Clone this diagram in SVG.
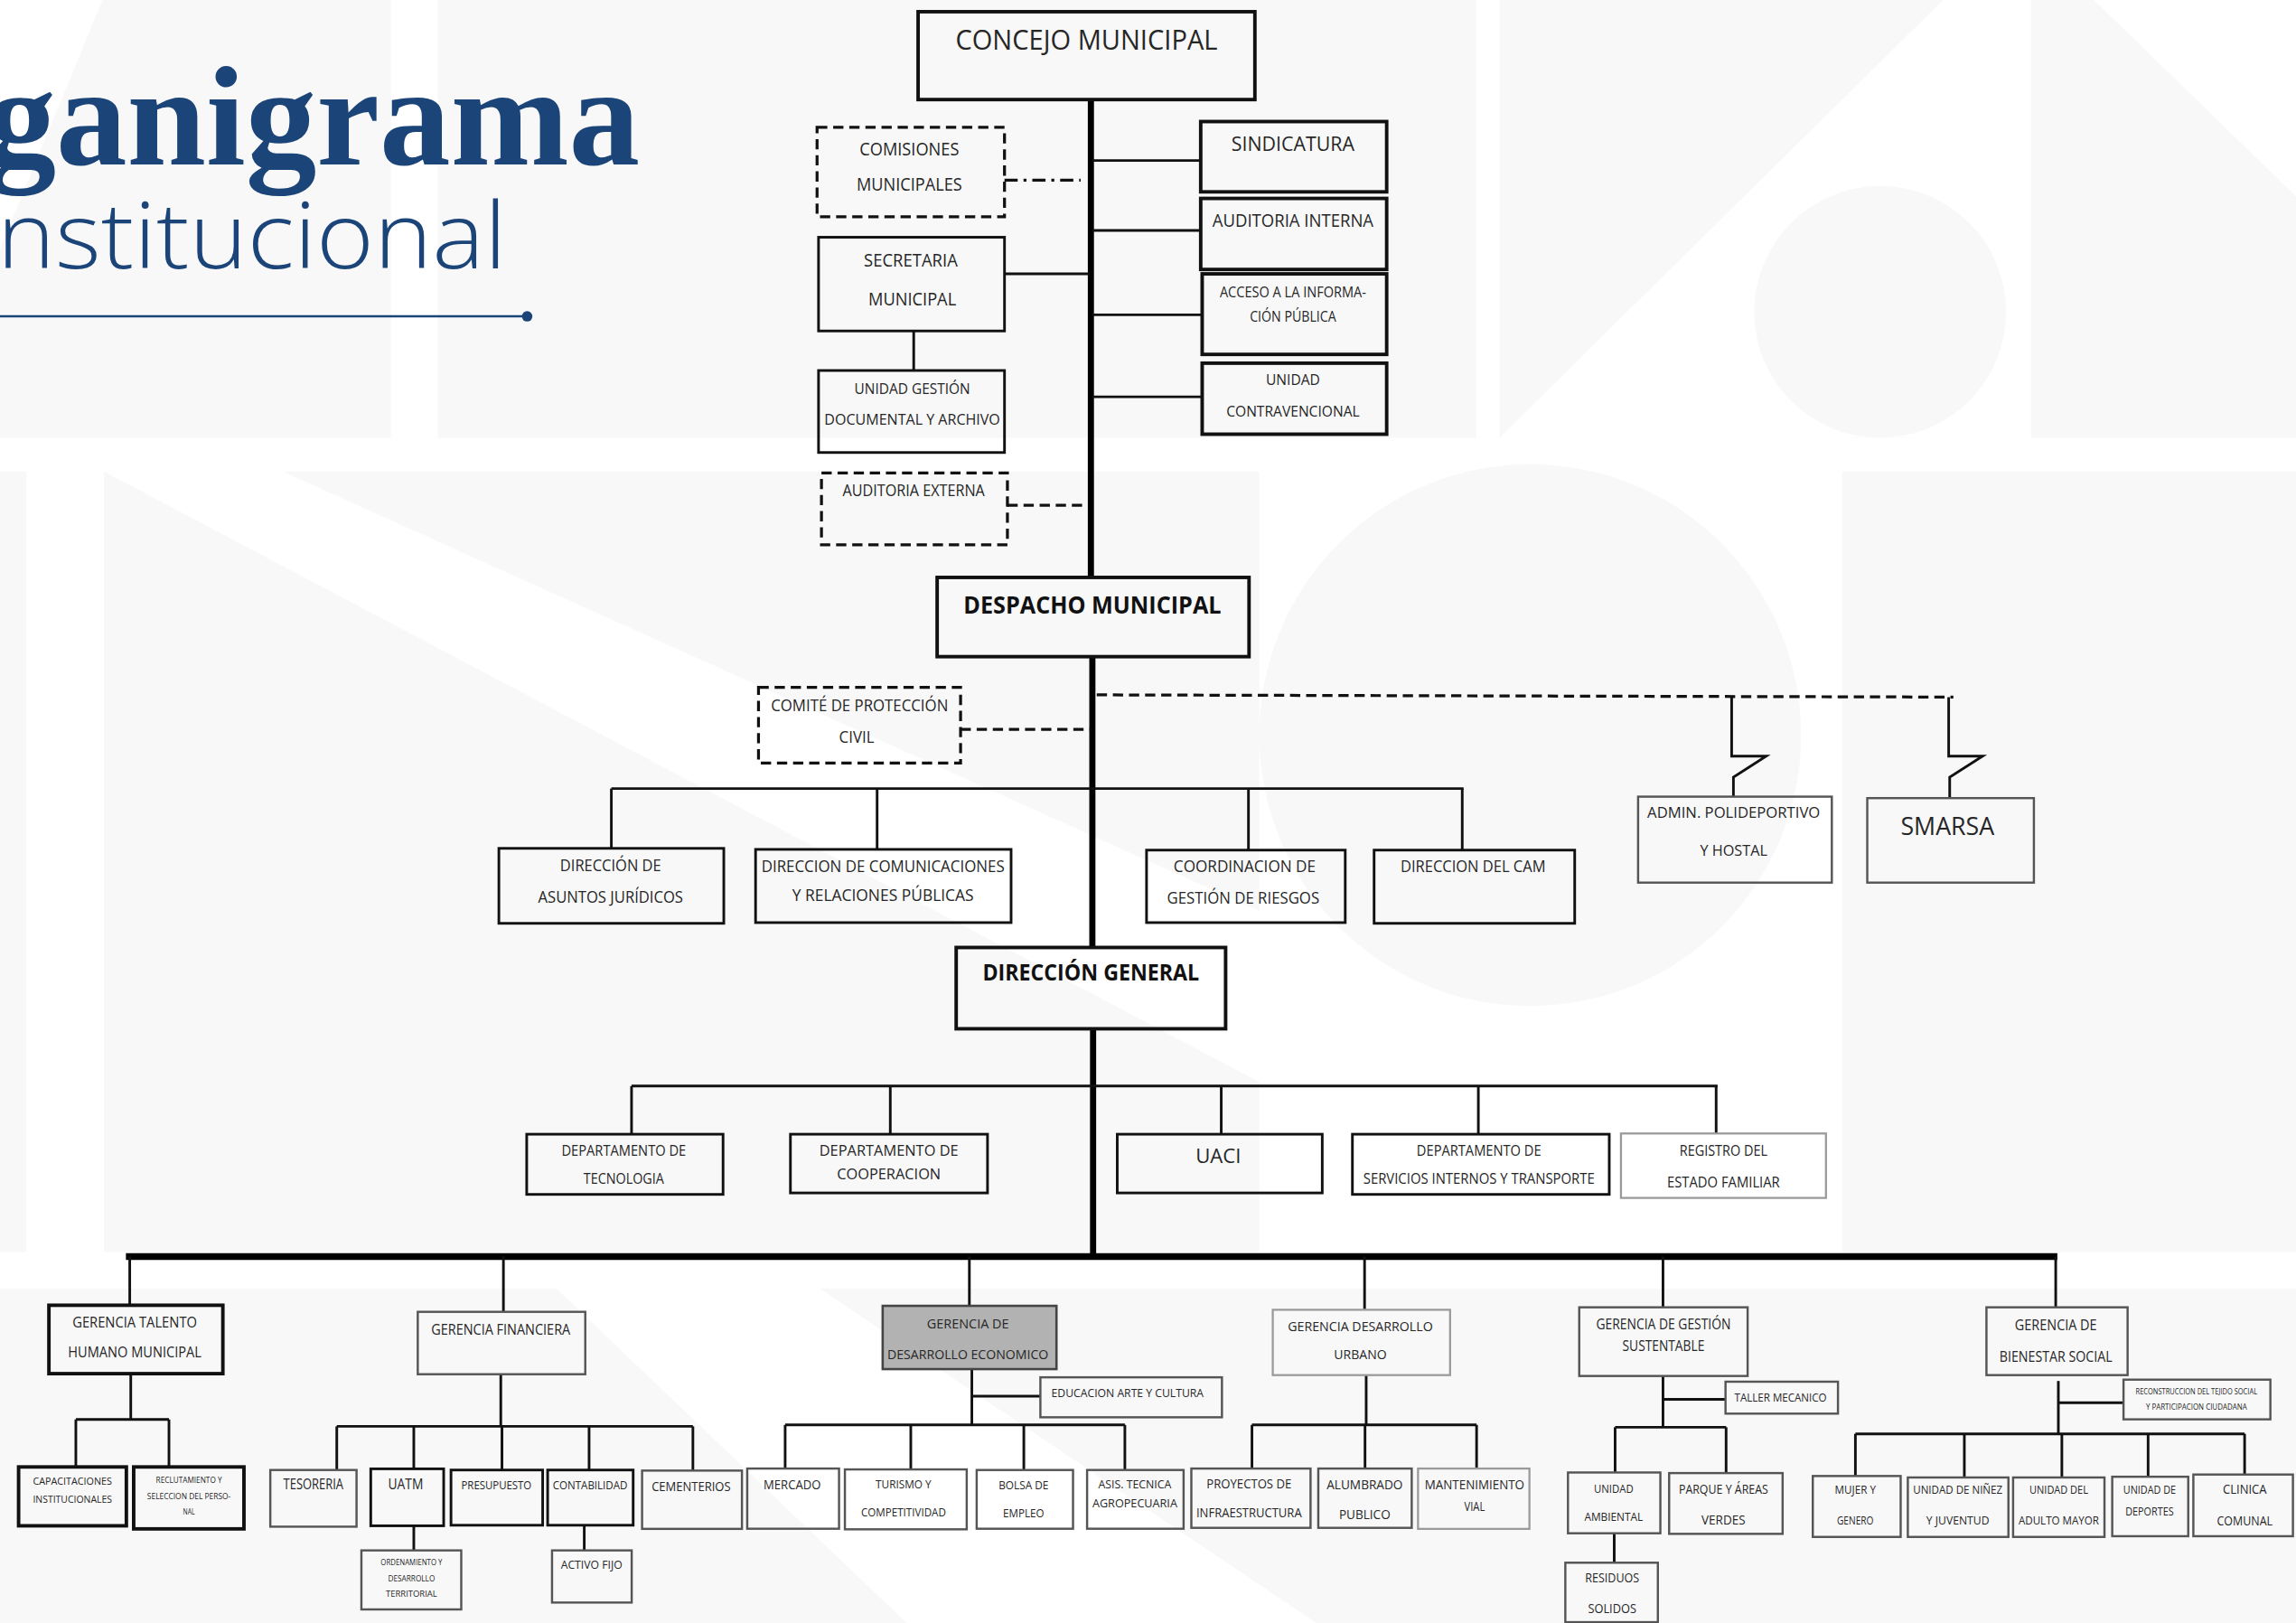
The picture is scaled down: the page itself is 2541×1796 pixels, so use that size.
<svg xmlns="http://www.w3.org/2000/svg" width="2541" height="1796" viewBox="0 0 2541 1796">
<defs>
<style>
.b{fill:none;stroke:#111;stroke-width:1.8}
.bk{fill:none;stroke:#111;stroke-width:2.4}
.bg{fill:none;stroke:#555;stroke-width:1.5}
.bl{fill:none;stroke:#9a9a9a;stroke-width:1.4}
.bd{fill:none;stroke:#111;stroke-width:2;stroke-dasharray:7 4}
.t{font-family:'Open Sans','Liberation Sans',sans-serif;fill:#262626;text-anchor:middle}
.tb{font-weight:bold;fill:#111}
.c{stroke:#111;stroke-width:1.8;fill:none}
.cs{stroke:#000;stroke-width:4.2;fill:none}
.cb{stroke:#000;stroke-width:4.6;fill:none}
.cd{stroke:#111;stroke-width:2;fill:none;stroke-dasharray:7 4}
.cdd{stroke:#111;stroke-width:2;fill:none;stroke-dasharray:9 4 2 4}
.bgt{fill:#f8f8f9}
.wh{fill:#ffffff}
</style>
</defs>
<g transform="scale(1.62054)">
<g id="background">
<rect x="0" y="0" width="1568" height="1109" class="bgt"/>
<rect x="267" y="0" width="32" height="299" class="wh"/>
<rect x="1008" y="0" width="16" height="299" class="wh"/>
<polygon points="1327,0 1387,0 1387,299 1024,299" class="wh"/>
<circle cx="1284" cy="213" r="86" class="bgt"/>
<polygon points="1430,0 1568,0 1568,134" class="wh"/>
<polygon points="0,0 70,0 0,170" class="wh"/>
<rect x="0" y="299" width="1568" height="23" class="wh"/>
<rect x="18" y="322" width="53" height="533" class="wh"/>
<polygon points="71,322 193,322 900,640 900,760" class="wh"/>
<rect x="860" y="322" width="398" height="533" class="wh"/>
<circle cx="1045" cy="502" r="185" class="bgt"/>
<rect x="0" y="855" width="1568" height="25" class="wh"/>
<polygon points="380,880 560,880 900,1109 620,1109" class="wh"/>
</g>
<g id="title">
<text x="437" y="112" font-family="'Liberation Serif',serif" font-weight="bold" font-size="97" fill="#1b4478" text-anchor="end">ganigrama</text>
<text x="-2" y="183" font-family="'Open Sans','Liberation Sans',sans-serif" font-weight="300" font-size="63" fill="#1b4478" textLength="348" lengthAdjust="spacingAndGlyphs">nstitucional</text>
<line x1="0" y1="216" x2="360" y2="216" stroke="#1b4478" stroke-width="1.6"/>
<circle cx="360" cy="216" r="3.6" fill="#1b4478"/>
</g>
<g id="connectors">
<line x1="745" y1="68" x2="745" y2="394" class="cs"/>
<line x1="746" y1="448" x2="746" y2="647" class="cs"/>
<line x1="746.5" y1="702" x2="746.5" y2="858" class="cs"/>
<line x1="746" y1="109.6" x2="820" y2="109.6" class="c"/>
<line x1="746" y1="157.4" x2="820" y2="157.4" class="c"/>
<line x1="746" y1="215" x2="821" y2="215" class="c"/>
<line x1="746" y1="271" x2="821" y2="271" class="c"/>
<line x1="686" y1="187" x2="744" y2="187" class="c"/>
<line x1="624" y1="226" x2="624" y2="253" class="c"/>
<line x1="686" y1="123" x2="738" y2="123" class="cdd"/>
<line x1="688" y1="345" x2="743" y2="345" class="cd"/>
<line x1="656" y1="498" x2="745" y2="498" class="cd"/>
<line x1="749" y1="474.5" x2="1334" y2="476" class="cd"/>
<polyline points="1182.6,476 1182.6,516.3 1206.2,516.3 1183.8,530.7 1183.8,544" class="c"/>
<polyline points="1330.8,476 1330.8,516.3 1354,516.3 1331.5,530.7 1331.5,545" class="c"/>
<line x1="417.5" y1="538.5" x2="999.5" y2="538.5" class="c" stroke-width="2.2"/>
<line x1="417.5" y1="538.5" x2="417.5" y2="579.3" class="c"/>
<line x1="599" y1="538.5" x2="599" y2="580" class="c"/>
<line x1="852.6" y1="538.5" x2="852.6" y2="580.5" class="c"/>
<line x1="998.6" y1="538.5" x2="998.6" y2="580.5" class="c"/>
<line x1="431.3" y1="741.6" x2="1173" y2="741.6" class="c" stroke-width="2.2"/>
<line x1="431.3" y1="741.6" x2="431.3" y2="774.5" class="c"/>
<line x1="608" y1="741.6" x2="608" y2="774.5" class="c"/>
<line x1="834" y1="741.6" x2="834" y2="774.5" class="c"/>
<line x1="1009.6" y1="741.6" x2="1009.6" y2="774.5" class="c"/>
<line x1="1172" y1="741.6" x2="1172" y2="774" class="c"/>
<line x1="86" y1="858" x2="1405" y2="858" class="cb"/>
<line x1="88.6" y1="858" x2="88.6" y2="891.3" class="c" stroke-width="2.2"/>
<line x1="343.8" y1="858" x2="343.8" y2="895.8" class="c" stroke-width="2.2"/>
<line x1="662" y1="858" x2="662" y2="891.7" class="c" stroke-width="2.2"/>
<line x1="931.9" y1="858" x2="931.9" y2="894" class="c" stroke-width="2.2"/>
<line x1="1135.7" y1="858" x2="1135.7" y2="892.7" class="c" stroke-width="2.2"/>
<line x1="1403.9" y1="858" x2="1403.9" y2="892.7" class="c" stroke-width="2.2"/>
<line x1="89.3" y1="938" x2="89.3" y2="969.3" class="c"/>
<line x1="51.8" y1="969.3" x2="115.4" y2="969.3" class="c" stroke-width="2.2"/>
<line x1="51.8" y1="969.3" x2="51.8" y2="1001.7" class="c"/>
<line x1="115.4" y1="969.3" x2="115.4" y2="1001.7" class="c"/>
<line x1="342" y1="938.4" x2="342" y2="974" class="c"/>
<line x1="230" y1="974" x2="473.2" y2="974" class="c" stroke-width="2.2"/>
<line x1="230" y1="974" x2="230" y2="1003.8" class="c"/>
<line x1="282.6" y1="974" x2="282.6" y2="1003" class="c"/>
<line x1="342.8" y1="974" x2="342.8" y2="1003.8" class="c"/>
<line x1="402.3" y1="974" x2="402.3" y2="1003.8" class="c"/>
<line x1="473.2" y1="974" x2="473.2" y2="1004.2" class="c"/>
<line x1="282.6" y1="1041.9" x2="282.6" y2="1058.7" class="c"/>
<line x1="399" y1="1041.9" x2="399" y2="1058.7" class="c"/>
<line x1="663.7" y1="934.9" x2="663.7" y2="973" class="c"/>
<line x1="663.7" y1="953.4" x2="710.5" y2="953.4" class="c" stroke-width="2.2"/>
<line x1="536.2" y1="973" x2="768.2" y2="973" class="c" stroke-width="2.2"/>
<line x1="536.2" y1="973" x2="536.2" y2="1002.8" class="c"/>
<line x1="622" y1="973" x2="622" y2="1003.4" class="c"/>
<line x1="699.2" y1="973" x2="699.2" y2="1003.8" class="c"/>
<line x1="768.2" y1="973" x2="768.2" y2="1003.8" class="c"/>
<line x1="933" y1="939" x2="933" y2="973" class="c"/>
<line x1="855" y1="973" x2="1008.4" y2="973" class="c" stroke-width="2.2"/>
<line x1="855" y1="973" x2="855" y2="1002.8" class="c"/>
<line x1="932.2" y1="973" x2="932.2" y2="1002.8" class="c"/>
<line x1="1008.4" y1="973" x2="1008.4" y2="1002.8" class="c"/>
<line x1="1135.7" y1="939.6" x2="1135.7" y2="974.6" class="c"/>
<line x1="1135.7" y1="955.5" x2="1178.4" y2="955.5" class="c" stroke-width="2.2"/>
<line x1="1103" y1="974.6" x2="1178.8" y2="974.6" class="c" stroke-width="2.2"/>
<line x1="1103" y1="974.6" x2="1103" y2="1005.5" class="c"/>
<line x1="1178.8" y1="974.6" x2="1178.8" y2="1005.9" class="c"/>
<line x1="1102.4" y1="1047" x2="1102.4" y2="1067.1" class="c"/>
<line x1="1405.7" y1="943" x2="1405.7" y2="979.1" class="c"/>
<line x1="1405.7" y1="957.9" x2="1450.2" y2="957.9" class="c" stroke-width="2.2"/>
<line x1="1267.1" y1="979.1" x2="1532.9" y2="979.1" class="c" stroke-width="2.2"/>
<line x1="1267.1" y1="979.1" x2="1267.1" y2="1007.9" class="c"/>
<line x1="1341.5" y1="979.1" x2="1341.5" y2="1008.9" class="c"/>
<line x1="1408.1" y1="979.1" x2="1408.1" y2="1008.9" class="c"/>
<line x1="1467" y1="979.1" x2="1467" y2="1008.4" class="c"/>
<line x1="1532.9" y1="979.1" x2="1532.9" y2="1006.9" class="c"/>
</g>
<g id="n-concejo"><rect x="627" y="8" width="230" height="60" class="bk"/><text x="742" y="34" class="t" font-size="19.5" textLength="179" lengthAdjust="spacingAndGlyphs">CONCEJO MUNICIPAL</text></g>
<g id="n-comisiones"><rect x="558" y="87" width="128" height="61" class="bd"/><text x="621" y="106" class="t" font-size="12" textLength="68" lengthAdjust="spacingAndGlyphs">COMISIONES</text><text x="621" y="130" class="t" font-size="12" textLength="72" lengthAdjust="spacingAndGlyphs">MUNICIPALES</text></g>
<g id="n-secretaria"><rect x="559" y="162" width="127" height="64" class="b"/><text x="622" y="182" class="t" font-size="12" textLength="64" lengthAdjust="spacingAndGlyphs">SECRETARIA</text><text x="623" y="208.6" class="t" font-size="12" textLength="60" lengthAdjust="spacingAndGlyphs">MUNICIPAL</text></g>
<g id="n-gestion-documental"><rect x="559" y="253" width="127" height="56" class="b"/><text x="623" y="269" class="t" font-size="10.5" textLength="79" lengthAdjust="spacingAndGlyphs">UNIDAD GESTIÓN</text><text x="623" y="290" class="t" font-size="10.5" textLength="120" lengthAdjust="spacingAndGlyphs">DOCUMENTAL Y ARCHIVO</text></g>
<g id="n-auditoria-externa"><rect x="561" y="323" width="127" height="49" class="bd"/><text x="624" y="339" class="t" font-size="11" textLength="97" lengthAdjust="spacingAndGlyphs">AUDITORIA EXTERNA</text></g>
<g id="n-sindicatura"><rect x="820" y="83" width="127" height="48" class="bk"/><text x="883" y="103.3" class="t" font-size="13.5" textLength="84" lengthAdjust="spacingAndGlyphs">SINDICATURA</text></g>
<g id="n-auditoria-interna"><rect x="820" y="135.5" width="127" height="48.5" class="bk"/><text x="883" y="155" class="t" font-size="12.5" textLength="110" lengthAdjust="spacingAndGlyphs">AUDITORIA INTERNA</text></g>
<g id="n-acceso"><rect x="821" y="187" width="126" height="55" class="bk"/><text x="883" y="203" class="t" font-size="9.5" textLength="100" lengthAdjust="spacingAndGlyphs">ACCESO A LA INFORMA-</text><text x="883" y="219.6" class="t" font-size="9.5" textLength="59" lengthAdjust="spacingAndGlyphs">CIÓN PÚBLICA</text></g>
<g id="n-contravencional"><rect x="821" y="248" width="126" height="48.5" class="bk"/><text x="883" y="263" class="t" font-size="10.5" textLength="37" lengthAdjust="spacingAndGlyphs">UNIDAD</text><text x="883" y="284.6" class="t" font-size="10.5" textLength="91" lengthAdjust="spacingAndGlyphs">CONTRAVENCIONAL</text></g>
<g id="n-despacho"><rect x="640" y="394.3" width="213" height="54.1" class="bk"/><text x="746" y="419.2" class="t tb" font-size="17" textLength="176" lengthAdjust="spacingAndGlyphs">DESPACHO MUNICIPAL</text></g>
<g id="n-comite"><rect x="518" y="469.4" width="138" height="51.6" class="bd"/><text x="587" y="485.4" class="t" font-size="11" textLength="121" lengthAdjust="spacingAndGlyphs">COMITÉ DE  PROTECCIÓN</text><text x="585" y="507.5" class="t" font-size="11" textLength="24" lengthAdjust="spacingAndGlyphs">CIVIL</text></g>
<g id="n-juridicos"><rect x="340.7" y="579.3" width="153.6" height="51.2" class="b"/><text x="417" y="595" class="t" font-size="11" textLength="69" lengthAdjust="spacingAndGlyphs">DIRECCIÓN DE</text><text x="417" y="616.7" class="t" font-size="11" textLength="99" lengthAdjust="spacingAndGlyphs">ASUNTOS JURÍDICOS</text></g>
<g id="n-comunicaciones"><rect x="516" y="580" width="174.5" height="50" class="b"/><text x="603" y="595.5" class="t" font-size="11" textLength="166" lengthAdjust="spacingAndGlyphs">DIRECCION  DE COMUNICACIONES</text><text x="603" y="615" class="t" font-size="11" textLength="124" lengthAdjust="spacingAndGlyphs">Y RELACIONES   PÚBLICAS</text></g>
<g id="n-riesgos"><rect x="783" y="580.5" width="135.7" height="49.5" class="b"/><text x="850" y="595.5" class="t" font-size="11" textLength="97" lengthAdjust="spacingAndGlyphs">COORDINACION  DE</text><text x="849" y="617" class="t" font-size="11" textLength="104" lengthAdjust="spacingAndGlyphs">GESTIÓN  DE RIESGOS</text></g>
<g id="n-cam"><rect x="938.4" y="580.5" width="137" height="50" class="b"/><text x="1006" y="595.5" class="t" font-size="11" textLength="99" lengthAdjust="spacingAndGlyphs">DIRECCION DEL CAM</text></g>
<g id="n-polideportivo"><rect x="1118.7" y="544" width="132.3" height="58.7" class="bg"/><text x="1184" y="558.5" class="t" font-size="10" textLength="118" lengthAdjust="spacingAndGlyphs">ADMIN. POLIDEPORTIVO</text><text x="1184" y="584.2" class="t" font-size="10" textLength="46" lengthAdjust="spacingAndGlyphs">Y  HOSTAL</text></g>
<g id="n-smarsa"><rect x="1275.2" y="545" width="113.8" height="57.7" class="bg"/><text x="1330" y="570.2" class="t" font-size="16.5" textLength="64" lengthAdjust="spacingAndGlyphs">SMARSA</text></g>
<g id="n-direccion-general"><rect x="653" y="647" width="184" height="55.5" class="bk"/><text x="745" y="669.6" class="t tb" font-size="15.5" textLength="148" lengthAdjust="spacingAndGlyphs">DIRECCIÓN GENERAL</text></g>
<g id="n-tecnologia"><rect x="359.7" y="774.5" width="134.1" height="41.1" class="b"/><text x="426" y="789.5" class="t" font-size="9.5" textLength="85" lengthAdjust="spacingAndGlyphs">DEPARTAMENTO DE</text><text x="426" y="808.4" class="t" font-size="9.5" textLength="55" lengthAdjust="spacingAndGlyphs">TECNOLOGIA</text></g>
<g id="n-cooperacion"><rect x="539.8" y="774.5" width="134.6" height="40.1" class="b"/><text x="607" y="789.5" class="t" font-size="10.5" textLength="95" lengthAdjust="spacingAndGlyphs">DEPARTAMENTO DE</text><text x="607" y="805.3" class="t" font-size="10.5" textLength="71" lengthAdjust="spacingAndGlyphs">COOPERACION</text></g>
<g id="n-uaci"><rect x="763" y="774.5" width="140" height="40.1" class="b"/><text x="832" y="794" class="t" font-size="13.5" textLength="31" lengthAdjust="spacingAndGlyphs">UACI</text></g>
<g id="n-servicios"><rect x="923.6" y="774.5" width="175.4" height="41.1" class="b"/><text x="1010" y="789.5" class="t" font-size="9.5" textLength="85" lengthAdjust="spacingAndGlyphs">DEPARTAMENTO DE</text><text x="1010" y="808.4" class="t" font-size="9.5" textLength="158" lengthAdjust="spacingAndGlyphs">SERVICIOS  INTERNOS  Y TRANSPORTE</text></g>
<g id="n-registro"><rect x="1107" y="774" width="140" height="44" class="bl"/><text x="1177" y="789.5" class="t" font-size="9.5" textLength="60" lengthAdjust="spacingAndGlyphs">REGISTRO DEL</text><text x="1177" y="811" class="t" font-size="9.5" textLength="77" lengthAdjust="spacingAndGlyphs">ESTADO FAMILIAR</text></g>
<g id="n-talento"><rect x="33.4" y="891.3" width="118.8" height="46.7" class="bk"/><text x="92" y="906.7" class="t" font-size="10" textLength="85" lengthAdjust="spacingAndGlyphs">GERENCIA  TALENTO</text><text x="92" y="926.7" class="t" font-size="10" textLength="91" lengthAdjust="spacingAndGlyphs">HUMANO MUNICIPAL</text></g>
<g id="n-capacitaciones"><rect x="12.7" y="1001.7" width="73.6" height="40.2" class="bk"/><text x="49.5" y="1014" class="t" font-size="7" textLength="54" lengthAdjust="spacingAndGlyphs">CAPACITACIONES</text><text x="49.5" y="1026.4" class="t" font-size="7" textLength="54" lengthAdjust="spacingAndGlyphs">INSTITUCIONALES</text></g>
<g id="n-reclutamiento"><rect x="91.3" y="1001.7" width="75.3" height="42.3" class="bk"/><text x="129" y="1012.6" class="t" font-size="5.5" textLength="45" lengthAdjust="spacingAndGlyphs">RECLUTAMIENTO Y</text><text x="129" y="1024" class="t" font-size="5.5" textLength="57" lengthAdjust="spacingAndGlyphs">SELECCION DEL PERSO-</text><text x="129" y="1034.3" class="t" font-size="5.5" textLength="8" lengthAdjust="spacingAndGlyphs">NAL</text></g>
<g id="n-financiera"><rect x="285.3" y="895.8" width="114.4" height="42.6" class="bg"/><text x="342" y="911.3" class="t" font-size="10" textLength="95" lengthAdjust="spacingAndGlyphs">GERENCIA FINANCIERA</text></g>
<g id="n-tesoreria"><rect x="184.6" y="1003.8" width="58.9" height="38.7" class="bg"/><text x="214" y="1017.2" class="t" font-size="9.5" textLength="41" lengthAdjust="spacingAndGlyphs">TESORERIA</text></g>
<g id="n-uatm"><rect x="253.2" y="1003" width="49.8" height="38.9" class="b"/><text x="277" y="1017.2" class="t" font-size="9.5" textLength="24" lengthAdjust="spacingAndGlyphs">UATM</text></g>
<g id="n-presupuesto"><rect x="308" y="1003.8" width="62.6" height="37.7" class="b"/><text x="339" y="1017.2" class="t" font-size="8" textLength="48" lengthAdjust="spacingAndGlyphs">PRESUPUESTO</text></g>
<g id="n-contabilidad"><rect x="374" y="1003.8" width="58.4" height="37.7" class="b"/><text x="403" y="1017.2" class="t" font-size="8" textLength="51" lengthAdjust="spacingAndGlyphs">CONTABILIDAD</text></g>
<g id="n-cementerios"><rect x="438.5" y="1004.2" width="68.2" height="39.8" class="bg"/><text x="472" y="1018.2" class="t" font-size="9" textLength="54" lengthAdjust="spacingAndGlyphs">CEMENTERIOS</text></g>
<g id="n-ordenamiento"><rect x="246.8" y="1058.7" width="68.2" height="40.3" class="bg"/><text x="281" y="1069" class="t" font-size="5.5" textLength="42" lengthAdjust="spacingAndGlyphs">ORDENAMIENTO Y</text><text x="281" y="1080" class="t" font-size="5.5" textLength="32" lengthAdjust="spacingAndGlyphs">DESARROLLO</text><text x="281" y="1090.6" class="t" font-size="5.5" textLength="35" lengthAdjust="spacingAndGlyphs">TERRITORIAL</text></g>
<g id="n-activo-fijo"><rect x="377" y="1058.7" width="54.4" height="35.6" class="bg"/><text x="404" y="1071.3" class="t" font-size="8" textLength="42" lengthAdjust="spacingAndGlyphs">ACTIVO FIJO</text></g>
<g id="n-economico"><rect x="602.8" y="891.7" width="118.7" height="43.2" fill="#b2b2b2" stroke="#444" stroke-width="1.6"/><text x="661" y="907.1" class="t" font-size="9" textLength="56" lengthAdjust="spacingAndGlyphs">GERENCIA DE</text><text x="661" y="928.1" class="t" font-size="9" textLength="110" lengthAdjust="spacingAndGlyphs">DESARROLLO ECONOMICO</text></g>
<g id="n-educacion"><rect x="710.5" y="940.5" width="124" height="27.3" class="bg"/><text x="770" y="953.8" class="t" font-size="7.5" textLength="104" lengthAdjust="spacingAndGlyphs">EDUCACION  ARTE  Y CULTURA</text></g>
<g id="n-mercado"><rect x="510.3" y="1002.8" width="62.7" height="41.1" class="bg"/><text x="541" y="1017.2" class="t" font-size="9" textLength="39" lengthAdjust="spacingAndGlyphs">MERCADO</text></g>
<g id="n-turismo"><rect x="577" y="1003.4" width="83.2" height="40.9" class="bg"/><text x="617" y="1016.1" class="t" font-size="8" textLength="38" lengthAdjust="spacingAndGlyphs">TURISMO Y</text><text x="617" y="1035.3" class="t" font-size="8" textLength="58" lengthAdjust="spacingAndGlyphs">COMPETITIVIDAD</text></g>
<g id="n-bolsa"><rect x="667" y="1003.8" width="65.8" height="40.1" class="bg"/><text x="699" y="1017.2" class="t" font-size="7.5" textLength="34" lengthAdjust="spacingAndGlyphs">BOLSA DE</text><text x="699" y="1036.1" class="t" font-size="7.5" textLength="28" lengthAdjust="spacingAndGlyphs">EMPLEO</text></g>
<g id="n-agropecuaria"><rect x="742.4" y="1003.8" width="65.9" height="40.1" class="bg"/><text x="775" y="1016.1" class="t" font-size="7.5" textLength="50" lengthAdjust="spacingAndGlyphs">ASIS. TECNICA</text><text x="775" y="1029.5" class="t" font-size="7.5" textLength="58" lengthAdjust="spacingAndGlyphs">AGROPECUARIA</text></g>
<g id="n-urbano"><rect x="869.2" y="894.4" width="121.1" height="44.6" class="bl"/><text x="929" y="908.8" class="t" font-size="9" textLength="99" lengthAdjust="spacingAndGlyphs">GERENCIA DESARROLLO</text><text x="929" y="928.1" class="t" font-size="9" textLength="36" lengthAdjust="spacingAndGlyphs">URBANO</text></g>
<g id="n-proyectos"><rect x="813.6" y="1002.8" width="81.4" height="40.5" class="bg"/><text x="853" y="1016.1" class="t" font-size="8.5" textLength="58" lengthAdjust="spacingAndGlyphs">PROYECTOS DE</text><text x="853" y="1036.1" class="t" font-size="8.5" textLength="72" lengthAdjust="spacingAndGlyphs">INFRAESTRUCTURA</text></g>
<g id="n-alumbrado"><rect x="900.3" y="1002.8" width="63.8" height="40.5" class="bg"/><text x="932" y="1017.2" class="t" font-size="8.5" textLength="52" lengthAdjust="spacingAndGlyphs">ALUMBRADO</text><text x="932" y="1037.1" class="t" font-size="8.5" textLength="35" lengthAdjust="spacingAndGlyphs">PUBLICO</text></g>
<g id="n-mantenimiento"><rect x="968.4" y="1002.8" width="76.1" height="41.2" class="bl"/><text x="1007" y="1017.2" class="t" font-size="8.5" textLength="68" lengthAdjust="spacingAndGlyphs">MANTENIMIENTO</text><text x="1007" y="1031.6" class="t" font-size="8.5" textLength="14" lengthAdjust="spacingAndGlyphs">VIAL</text></g>
<g id="n-sustentable"><rect x="1078.5" y="892.7" width="115" height="46.9" class="bg"/><text x="1136" y="907.5" class="t" font-size="9.5" textLength="92" lengthAdjust="spacingAndGlyphs">GERENCIA  DE GESTIÓN</text><text x="1136" y="922.6" class="t" font-size="9.5" textLength="56" lengthAdjust="spacingAndGlyphs">SUSTENTABLE</text></g>
<g id="n-taller"><rect x="1178.4" y="943.5" width="76.8" height="21.8" class="bg"/><text x="1216" y="956.9" class="t" font-size="7.5" textLength="63" lengthAdjust="spacingAndGlyphs">TALLER  MECANICO</text></g>
<g id="n-ambiental"><rect x="1070.8" y="1005.5" width="63.1" height="41.5" class="bg"/><text x="1102" y="1019.2" class="t" font-size="8" textLength="27" lengthAdjust="spacingAndGlyphs">UNIDAD</text><text x="1102" y="1038.8" class="t" font-size="8" textLength="40" lengthAdjust="spacingAndGlyphs">AMBIENTAL</text></g>
<g id="n-parque"><rect x="1139.9" y="1005.9" width="77.5" height="41.5" class="bg"/><text x="1177" y="1020.3" class="t" font-size="9" textLength="61" lengthAdjust="spacingAndGlyphs">PARQUE Y ÁREAS</text><text x="1177" y="1041.2" class="t" font-size="9" textLength="30" lengthAdjust="spacingAndGlyphs">VERDES</text></g>
<g id="n-residuos"><rect x="1069" y="1067.1" width="63.2" height="40.6" class="bg"/><text x="1101" y="1080.3" class="t" font-size="9" textLength="37" lengthAdjust="spacingAndGlyphs">RESIDUOS</text><text x="1101" y="1101.5" class="t" font-size="9" textLength="33" lengthAdjust="spacingAndGlyphs">SOLIDOS</text></g>
<g id="n-bienestar"><rect x="1356.6" y="892.7" width="96.4" height="46.3" class="bg"/><text x="1404" y="908.2" class="t" font-size="9.5" textLength="56" lengthAdjust="spacingAndGlyphs">GERENCIA  DE</text><text x="1404" y="930.2" class="t" font-size="9.5" textLength="77" lengthAdjust="spacingAndGlyphs">BIENESTAR SOCIAL</text></g>
<g id="n-reconstruccion"><rect x="1450.2" y="942.1" width="100.3" height="27.1" class="bg"/><text x="1500" y="952.4" class="t" font-size="5" textLength="83" lengthAdjust="spacingAndGlyphs">RECONSTRUCCION DEL TEJIDO SOCIAL</text><text x="1500" y="962.7" class="t" font-size="5" textLength="69" lengthAdjust="spacingAndGlyphs">Y PARTICIPACION CIUDADANA</text></g>
<g id="n-mujer"><rect x="1238" y="1007.9" width="60" height="41.6" class="bg"/><text x="1267" y="1020.3" class="t" font-size="8" textLength="28" lengthAdjust="spacingAndGlyphs">MUJER Y</text><text x="1267" y="1040.8" class="t" font-size="8" textLength="25" lengthAdjust="spacingAndGlyphs">GENERO</text></g>
<g id="n-ninez"><rect x="1302.9" y="1008.9" width="68.7" height="40.6" class="bg"/><text x="1337" y="1020.3" class="t" font-size="8" textLength="61" lengthAdjust="spacingAndGlyphs">UNIDAD DE NIÑEZ</text><text x="1337" y="1040.8" class="t" font-size="8" textLength="43" lengthAdjust="spacingAndGlyphs">Y  JUVENTUD</text></g>
<g id="n-adulto"><rect x="1374.8" y="1008.9" width="62.4" height="40.6" class="bg"/><text x="1406" y="1020.3" class="t" font-size="8" textLength="40" lengthAdjust="spacingAndGlyphs">UNIDAD DEL</text><text x="1406" y="1040.8" class="t" font-size="8" textLength="55" lengthAdjust="spacingAndGlyphs">ADULTO MAYOR</text></g>
<g id="n-deportes"><rect x="1442.5" y="1008.4" width="51.9" height="40.6" class="bg"/><text x="1468" y="1020.3" class="t" font-size="8" textLength="36" lengthAdjust="spacingAndGlyphs">UNIDAD DE</text><text x="1468" y="1034.7" class="t" font-size="8" textLength="33" lengthAdjust="spacingAndGlyphs">DEPORTES</text></g>
<g id="n-clinica"><rect x="1497.9" y="1006.9" width="68" height="42.1" class="bg"/><text x="1533" y="1020.3" class="t" font-size="9" textLength="30" lengthAdjust="spacingAndGlyphs">CLINICA</text><text x="1533" y="1041.8" class="t" font-size="9" textLength="38" lengthAdjust="spacingAndGlyphs">COMUNAL</text></g>
</g>
</svg>
